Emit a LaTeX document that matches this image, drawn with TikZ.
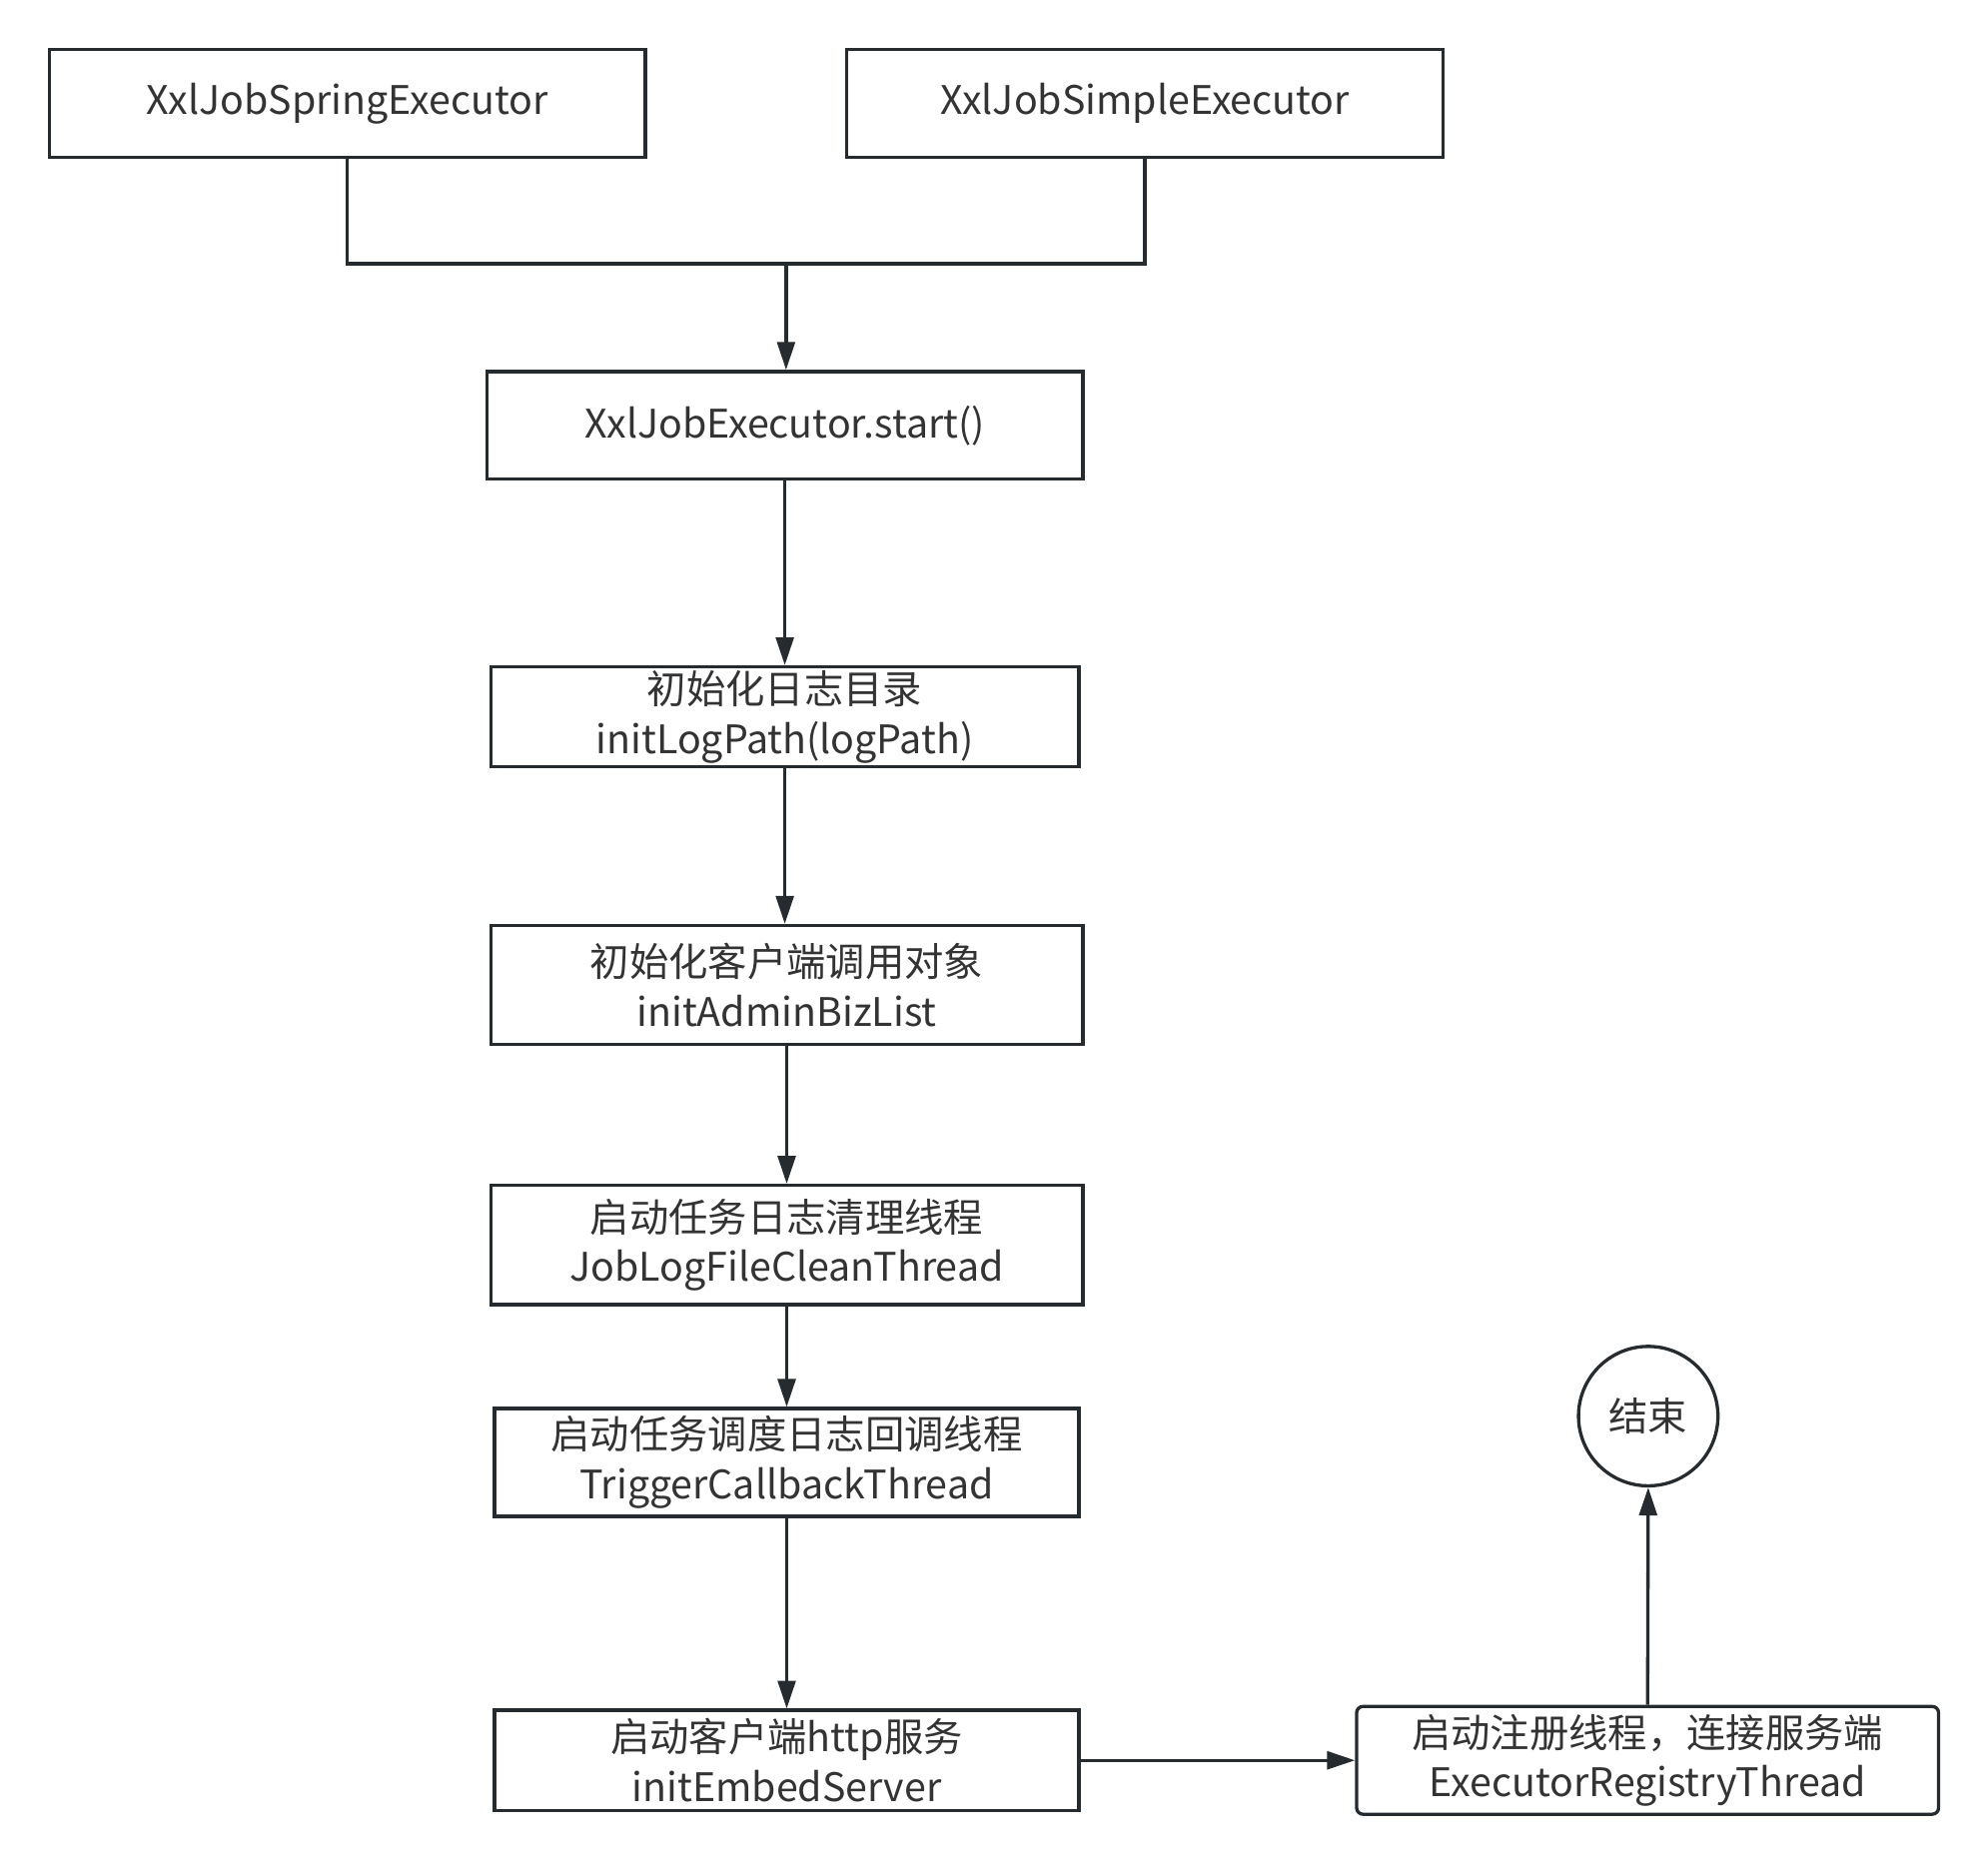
\documentclass[tikz,border=0pt]{standalone}
\usepackage{fontspec}
\setmainfont{Noto Sans CJK SC}
\usetikzlibrary{arrows.meta}
\definecolor{linec}{HTML}{262B30}
\definecolor{textc}{HTML}{333333}
\tikzset{
  box/.style={draw=linec, line width=2.6pt, inner sep=0pt, align=center, text=textc,
    font=\fontsize{31}{39}\selectfont},
  conn/.style={draw=linec, line width=2.6pt},
  arr/.style={conn, -{Triangle[length=22pt,width=14pt]}},
}
\begin{document}
\begin{tikzpicture}[x=1pt,y=-1pt]
\useasboundingbox (0,0) rectangle (1568,1470);
\node[box, minimum width=470pt, minimum height=85pt] (b1) at (274,81.5) {XxlJobSpringExecutor};
\node[box, minimum width=470pt, minimum height=85pt] (b2) at (903,81.5) {XxlJobSimpleExecutor};
\coordinate (j) at (620,208);
\node[box, minimum width=470pt, minimum height=85pt] (b3) at (619,335.5) {XxlJobExecutor.start()};
\node[box, minimum width=464pt, minimum height=79pt] (b4) at (619,565.5) {初始化日志目录\\initLogPath(logPath)};
\node[box, minimum width=467pt, minimum height=94pt] (b5) at (620.5,777) {初始化客户端调用对象\\initAdminBizList};
\node[box, minimum width=467pt, minimum height=94pt] (b6) at (620.5,982) {启动任务日志清理线程\\JobLogFileCleanThread};
\node[box, minimum width=461pt, minimum height=85pt] (b7) at (620.5,1153.5) {启动任务调度日志回调线程\\TriggerCallbackThread};
\node[box, minimum width=461pt, minimum height=79pt] (b8) at (620.5,1388.5) {启动客户端http服务\\initEmbedServer};
\node[box, rounded corners=5pt, minimum width=459pt, minimum height=85pt] (b9) at (1299.5,1388.5) {启动注册线程，连接服务端\\ExecutorRegistryThread};
\node[box, circle, minimum size=110pt] (end) at (1300,1117) {结束};
\draw[conn] (b1.south) |- (j);
\draw[conn] (b2.south) |- (j);
\draw[arr] (j) -- (j |- b3.north);
\draw[arr] (b3.south) -- (b3.south |- b4.north);
\draw[arr] (b4.south) -- (b4.south |- b5.north);
\draw[arr] (b5.south) -- (b5.south |- b6.north);
\draw[arr] (b6.south) -- (b6.south |- b7.north);
\draw[arr] (b7.south) -- (b7.south |- b8.north);
\draw[arr] (b8.east) -- (b9.west);
\draw[arr] (b9.north) -- (end.south);
\end{tikzpicture}
\end{document}
